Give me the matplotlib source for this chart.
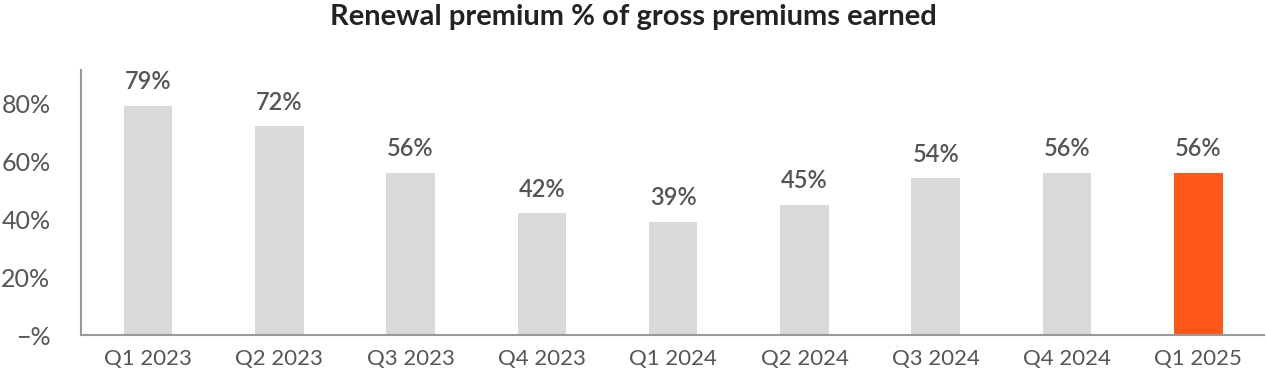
import matplotlib
matplotlib.use('Agg')
import matplotlib.pyplot as plt
import numpy as np

quarters = ['Q1 2023', 'Q2 2023', 'Q3 2023', 'Q4 2023', 'Q1 2024',
            'Q2 2024', 'Q3 2024', 'Q4 2024', 'Q1 2025']
renewal_pct = [79, 72, 56, 42, 39, 45, 54, 56, 56]
y_ticks = [0, 20, 40, 60, 80]
y_tick_labels = ['\u2212%', '20%', '40%', '60%', '80%']

plt.rcParams['font.family'] = ['Lato', 'DejaVu Sans']
text_color = '#555555'

fig = plt.figure(figsize=(12.66, 3.84), dpi=100)
ax = fig.add_axes([0.064, 0.1276, 0.9344, 0.690])

x = np.arange(len(quarters))
colors = ['#d9d9d9'] * (len(quarters) - 1) + ['#ff5719']
ax.bar(x, renewal_pct, width=0.37, color=colors)

for xi, v in zip(x, renewal_pct):
    ax.annotate(f'{v}%', (xi, v), xytext=(0, 9), textcoords='offset points',
                ha='center', va='bottom', fontsize=17, fontweight='semibold',
                color=text_color)

ax.set_xlim(-0.51, 8.5)
ax.set_ylim(0, 91.4)
ax.set_xticks(x)
ax.set_xticklabels(quarters)
ax.set_yticks(y_ticks)
ax.set_yticklabels(y_tick_labels)
ax.tick_params(length=0, labelcolor=text_color)
ax.tick_params(axis='x', pad=10, labelsize=16)
ax.tick_params(axis='y', pad=22, labelsize=18)

for side in ['top', 'right']:
    ax.spines[side].set_visible(False)
for side in ['left', 'bottom']:
    ax.spines[side].set_color('#999999')
    ax.spines[side].set_linewidth(1.5)

fig.text(0.5, 0.955, 'Renewal premium % of gross premiums earned',
         ha='center', va='center', fontsize=21, fontweight='bold', color='#222222')

fig.savefig('out.png', dpi=100)
